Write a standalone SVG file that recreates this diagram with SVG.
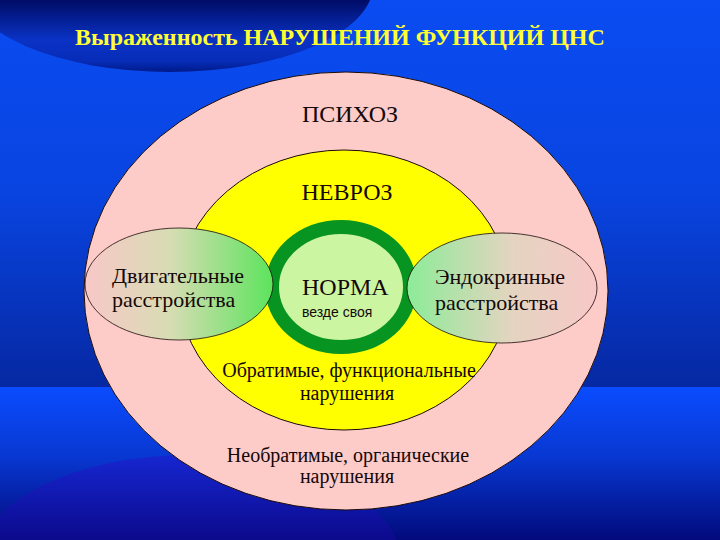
<svg xmlns="http://www.w3.org/2000/svg" width="720" height="540" viewBox="0 0 720 540">
  <defs>
    <linearGradient id="bgTop" x1="0" y1="0" x2="0" y2="387" gradientUnits="userSpaceOnUse">
      <stop offset="0" stop-color="#0a4cf2"/>
      <stop offset="0.5" stop-color="#0944e0"/>
      <stop offset="1" stop-color="#0628a2"/>
    </linearGradient>
    <linearGradient id="bgBot" x1="0" y1="387" x2="0" y2="540" gradientUnits="userSpaceOnUse">
      <stop offset="0" stop-color="#0a4cff"/>
      <stop offset="0.45" stop-color="#0838d2"/>
      <stop offset="1" stop-color="#020a7c"/>
    </linearGradient>
    <linearGradient id="swoosh" x1="0" y1="455" x2="0" y2="540" gradientUnits="userSpaceOnUse">
      <stop offset="0" stop-color="#1626d0"/>
      <stop offset="1" stop-color="#0c0a8c"/>
    </linearGradient>
    <linearGradient id="darkCap" x1="0" y1="0" x2="0" y2="72" gradientUnits="userSpaceOnUse">
      <stop offset="0" stop-color="#000c66"/>
      <stop offset="0.55" stop-color="#0a32c4"/>
      <stop offset="0.85" stop-color="#062cb8"/>
      <stop offset="1" stop-color="#001a8a"/>
    </linearGradient>
    <linearGradient id="lensL" x1="0" y1="0" x2="1" y2="0">
      <stop offset="0" stop-color="#f8c8c8"/>
      <stop offset="0.45" stop-color="#d8dcb4"/>
      <stop offset="1" stop-color="#5ce45c"/>
    </linearGradient>
    <linearGradient id="lensR" x1="0" y1="0" x2="1" y2="0">
      <stop offset="0" stop-color="#8cec98"/>
      <stop offset="0.55" stop-color="#e4d4c0"/>
      <stop offset="1" stop-color="#f8c8c8"/>
    </linearGradient>
    <style>
      text { font-family: "Liberation Serif", "Times New Roman", "DejaVu Serif", serif; }
      .ink { fill: #140808; }
      .mid { text-anchor: middle; }
      .edge { stroke: #1a0a0a; stroke-width: 1; }
      .sans { font-family: "Liberation Sans", Arial, "DejaVu Sans", sans-serif; }
      .ttl { font-weight: bold; font-size: 24px; fill: #ffff33; }
    </style>
  </defs>

  <!-- background -->
  <rect x="0" y="0" width="720" height="387" fill="url(#bgTop)"/>
  <rect x="0" y="387" width="720" height="153" fill="url(#bgBot)"/>
  <ellipse cx="190" cy="560" rx="210" ry="105" fill="url(#swoosh)"/>
  <ellipse cx="170" cy="-15" rx="203" ry="87" fill="url(#darkCap)"/>

  <g id="title">
    <text x="75" y="45" class="ttl">Выраженность НАРУШЕНИЙ ФУНКЦИЙ ЦНС</text>
  </g>

  <g id="connectors"/>

  <g id="psychosis">
    <ellipse cx="346" cy="291" rx="262" ry="219" fill="#fdcbc8" class="edge"/>
    <text x="350" y="122" class="ink mid" font-size="24">ПСИХОЗ</text>
    <text x="348" y="462" class="ink mid" font-size="20">Необратимые, органические</text>
    <text x="347" y="483" class="ink mid" font-size="20">нарушения</text>
  </g>

  <g id="neurosis">
    <ellipse cx="344" cy="290" rx="165" ry="140" fill="#ffff00" class="edge"/>
    <text x="347" y="200" class="ink mid" font-size="24">НЕВРОЗ</text>
    <text x="349" y="377" class="ink mid" font-size="20">Обратимые, функциональные</text>
    <text x="347" y="400" class="ink mid" font-size="20">нарушения</text>
  </g>

  <g id="norm">
    <ellipse cx="341" cy="287" rx="69" ry="60" fill="#ccf5a2" stroke="#089420" stroke-width="14"/>
    <text x="302" y="295" class="ink" font-size="24">НОРМА</text>
    <text x="302" y="317" class="ink sans" font-size="14">везде своя</text>
  </g>

  <g id="motor">
    <ellipse cx="179" cy="284" rx="94" ry="56" fill="url(#lensL)" stroke="#1a0a0a" stroke-width="0.8"/>
    <text x="112" y="283" class="ink" font-size="22">Двигательные</text>
    <text x="112" y="307" class="ink" font-size="22">расстройства</text>
  </g>

  <g id="endocrine">
    <ellipse cx="502" cy="288" rx="95" ry="55" fill="url(#lensR)" stroke="#1a0a0a" stroke-width="0.8"/>
    <text x="435" y="284" class="ink" font-size="22">Эндокринные</text>
    <text x="435" y="310" class="ink" font-size="22">расстройства</text>
  </g>
</svg>
